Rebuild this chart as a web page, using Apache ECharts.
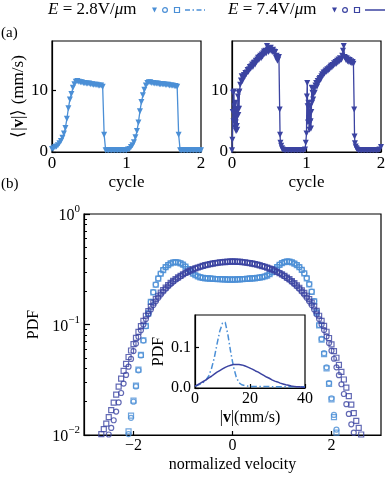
<!DOCTYPE html>
<html><head><meta charset="utf-8">
<script src="https://cdn.jsdelivr.net/npm/echarts@6/dist/echarts.min.js"></script>
<style>html,body{margin:0;padding:0;background:#fff}#c{width:386px;height:480px}</style>
</head><body><div id="c"></div>
<script>
// ---- (a) mean speed vs cycle, E = 2.8 V/um ----
const lowFieldTrace = [
[0.00,0.5],[0.02,0.6],[0.04,0.8],[0.06,0.9],[0.08,1.1],[0.10,1.4],[0.12,1.8],[0.14,2.3],[0.16,3.0],[0.18,3.9],
[0.20,5.4],[0.22,7.1],[0.24,8.5],[0.26,9.4],[0.28,10.4],[0.30,11.0],[0.32,11.4],[0.34,11.5],[0.36,11.4],[0.38,11.3],
[0.40,11.3],[0.42,11.2],[0.44,11.2],[0.46,11.1],[0.48,11.1],[0.50,11.1],[0.52,11.0],[0.54,11.0],[0.56,10.9],[0.58,10.9],
[0.60,10.9],[0.62,10.8],[0.64,10.8],[0.66,10.8],[0.68,10.6],[0.70,2.8],[0.72,0.3],[0.74,0.3],[0.76,0.3],[0.78,0.3],
[0.80,0.3],[0.82,0.3],[0.84,0.3],[0.86,0.3],[0.88,0.3],[0.90,0.3],[0.92,0.3],[0.94,0.3],[0.96,0.3],[0.98,0.3],
[1.00,0.3],[1.02,0.4],[1.04,0.5],[1.06,0.8],[1.08,1.1],[1.10,1.6],[1.12,2.4],[1.14,3.4],[1.16,4.8],[1.18,6.6],
[1.20,8.1],[1.22,9.2],[1.24,10.1],[1.26,10.8],[1.28,11.2],[1.30,11.3],[1.32,11.3],[1.34,11.2],[1.36,11.2],[1.38,11.1],
[1.40,11.1],[1.42,11.1],[1.44,11.0],[1.46,11.0],[1.48,11.0],[1.50,11.0],[1.52,10.9],[1.54,10.9],[1.56,10.9],[1.58,10.8],
[1.60,10.8],[1.62,10.8],[1.64,10.7],[1.66,10.7],[1.68,10.6],[1.70,2.8],[1.72,0.3],[1.74,0.3],[1.76,0.3],[1.78,0.3],
[1.80,0.3],[1.82,0.3],[1.84,0.3],[1.86,0.3],[1.88,0.3],[1.90,0.3],[1.92,0.3],[1.94,0.3],[1.96,0.3],[1.98,0.3],[2.00,0.3]
];
// ---- (a) mean speed vs cycle, E = 7.4 V/um ----
const highFieldTrace = [
[0.000,0.3],[0.005,2.0],[0.010,6.5],[0.015,9.6],[0.020,5.0],[0.025,9.8],[0.030,7.4],[0.035,4.0],[0.040,6.0],[0.045,8.0],
[0.050,4.8],[0.055,3.4],[0.060,6.9],[0.065,4.2],[0.070,3.6],[0.075,7.0],[0.080,9.0],[0.085,6.0],[0.090,9.6],[0.095,7.0],
[0.100,9.8],[0.11,10.9],[0.12,11.6],[0.13,12.3],[0.14,11.5],[0.15,12.0],[0.16,12.5],[0.17,12.2],[0.18,12.8],[0.19,12.6],
[0.20,12.9],[0.21,13.3],[0.22,13.0],[0.23,13.4],[0.24,13.8],[0.25,13.5],[0.26,13.9],[0.27,14.2],[0.28,13.8],[0.29,14.4],
[0.30,14.5],[0.31,14.2],[0.32,14.8],[0.33,14.6],[0.34,15.0],[0.35,15.3],[0.36,14.9],[0.37,15.4],[0.38,15.6],[0.39,15.2],
[0.40,15.8],[0.41,15.5],[0.42,16.0],[0.43,16.3],[0.44,15.9],[0.45,16.4],[0.46,16.0],[0.47,17.2],[0.48,16.6],[0.49,16.2],
[0.50,16.7],[0.51,16.4],[0.52,16.9],[0.53,16.5],[0.54,16.2],[0.55,16.6],[0.56,16.3],[0.57,16.0],[0.58,16.2],[0.59,15.3],
[0.60,15.6],[0.61,14.8],[0.62,15.0],[0.63,15.4],[0.640,6.9],[0.645,2.8],[0.650,1.5],[0.66,1.0],[0.67,0.6],[0.68,0.4],
[0.70,0.3],[0.72,0.3],[0.74,0.3],[0.76,0.3],[0.78,0.3],[0.80,0.3],[0.82,0.3],[0.84,0.3],[0.86,0.3],[0.88,0.3],
[0.90,0.3],[0.92,0.3],[0.94,0.3],[0.96,0.3],[0.98,0.4],[0.99,1.5],[1.000,3.0],[1.005,9.0],[1.010,11.2],[1.015,7.4],
[1.020,4.8],[1.025,8.0],[1.030,7.4],[1.035,5.0],[1.040,3.6],[1.045,4.8],[1.050,7.4],[1.055,5.0],[1.060,3.8],[1.065,6.5],
[1.070,10.4],[1.075,8.0],[1.080,9.6],[1.09,8.5],[1.10,10.2],[1.11,9.6],[1.12,10.8],[1.13,11.2],[1.14,10.6],[1.15,11.5],
[1.16,11.2],[1.17,11.8],[1.18,12.0],[1.19,11.7],[1.20,12.3],[1.21,12.6],[1.22,12.4],[1.23,12.9],[1.24,12.7],[1.25,13.0],
[1.26,13.2],[1.27,13.0],[1.28,13.4],[1.29,13.2],[1.30,13.6],[1.31,13.4],[1.32,13.8],[1.33,14.0],[1.34,13.7],[1.35,14.1],
[1.36,14.0],[1.37,14.4],[1.38,14.2],[1.39,14.6],[1.40,14.3],[1.41,14.8],[1.42,14.5],[1.43,15.0],[1.44,14.7],[1.45,15.2],
[1.46,14.9],[1.47,15.0],[1.48,15.6],[1.49,16.4],[1.50,17.2],[1.51,15.4],[1.52,15.3],[1.53,14.9],[1.54,15.2],[1.55,14.7],
[1.56,15.0],[1.57,14.6],[1.58,14.9],[1.59,14.5],[1.60,14.7],[1.61,14.4],[1.62,14.6],[1.63,14.3],[1.640,6.9],[1.645,2.5],
[1.65,1.4],[1.66,0.9],[1.67,0.6],[1.68,0.4],[1.70,0.3],[1.72,0.3],[1.74,0.3],[1.76,0.3],[1.78,0.3],[1.80,0.3],
[1.82,0.3],[1.84,0.3],[1.86,0.3],[1.88,0.3],[1.90,0.3],[1.92,0.3],[1.94,0.3],[1.96,0.3],[1.98,0.4],[2.00,0.8]
];

// ---- (b) PDF of normalized velocity ----
const velocityBins = [-2.70,-2.65,-2.60,-2.55,-2.50,-2.45,-2.40,-2.35,-2.30,-2.25,-2.20,-2.15,-2.10,-2.05,-2.00,-1.95,-1.90,-1.85,-1.80,-1.75,
-1.70,-1.65,-1.60,-1.55,-1.50,-1.45,-1.40,-1.35,-1.30,-1.25,-1.20,-1.15,-1.10,-1.05,-1.00,-0.95,-0.90,-0.85,-0.80,-0.75,
-0.70,-0.65,-0.60,-0.55,-0.50,-0.45,-0.40,-0.35,-0.30,-0.25,-0.20,-0.15,-0.10,-0.05,0.00,
0.05,0.10,0.15,0.20,0.25,0.30,0.35,0.40,0.45,0.50,0.55,0.60,0.65,0.70,0.75,0.80,0.85,0.90,0.95,1.00,
1.05,1.10,1.15,1.20,1.25,1.30,1.35,1.40,1.45,1.50,1.55,1.60,1.65,1.70,1.75,1.80,1.85,1.90,1.95,2.00,
2.05,2.10,2.15,2.20,2.25,2.30,2.35,2.40,2.45,2.50,2.55,2.60,2.65,2.70];

// E = 2.8 V/um, circles
const pdfLowCircle = [null,null,null,null,null,null,null,null,null,null,null,null,
0.0102,0.0143,0.0200,0.0275,0.0385,0.0525,0.0715,0.0965,0.126,0.160,0.196,0.230,0.261,0.289,0.312,0.331,0.346,0.358,
0.365,0.367,0.365,0.359,0.349,0.335,0.319,0.303,0.290,0.280,0.273,0.268,0.265,0.263,0.262,0.261,0.260,0.259,0.258,0.258,
0.257,0.257,0.256,0.256,
0.256,
0.256,0.257,0.257,0.258,0.259,0.260,0.261,0.262,0.263,0.265,0.267,0.269,0.273,0.278,0.287,0.299,0.315,0.332,0.348,0.360,
0.368,0.372,0.371,0.366,0.357,0.346,0.331,0.313,0.291,0.263,0.232,0.198,0.163,0.129,0.099,0.074,0.055,0.041,0.0295,0.0215,
0.0152,0.0112,null,null,null,null,null,null,null,null,null,null,null,null];
// E = 2.8 V/um, squares
const pdfLowSquare = [null,null,null,null,null,null,null,null,null,null,null,null,
0.0108,0.0150,0.0205,0.028,0.039,0.053,0.072,0.097,0.126,0.160,0.195,0.229,0.260,0.288,0.311,0.330,0.345,0.357,
0.364,0.366,0.364,0.358,0.348,0.334,0.318,0.302,0.289,0.279,0.272,0.267,0.264,0.262,0.261,0.260,0.259,0.258,0.257,0.257,
0.256,0.256,0.255,0.255,
0.255,
0.255,0.256,0.256,0.257,0.258,0.259,0.260,0.261,0.262,0.264,0.266,0.268,0.272,0.277,0.286,0.298,0.314,0.331,0.347,0.359,
0.367,0.371,0.370,0.365,0.356,0.344,0.330,0.312,0.290,0.262,0.231,0.197,0.162,0.128,0.098,0.073,0.054,0.040,0.029,0.021,
0.0145,0.0105,null,null,null,null,null,null,null,null,null,null,null,null];
// E = 7.4 V/um, circles
const pdfHighCircle = [null,null,null,null,0.0101,0.0116,0.0136,0.0163,0.0197,0.0240,0.0292,0.0350,0.0415,0.0488,0.0575,0.0672,0.0775,0.0885,0.100,0.112,
0.124,0.137,0.150,0.162,0.175,0.187,0.199,0.211,0.222,0.233,0.244,0.254,0.264,0.274,0.283,0.292,0.300,0.308,0.315,0.322,
0.328,0.334,0.339,0.344,0.349,0.353,0.357,0.360,0.363,0.366,0.368,0.370,0.371,0.372,
0.372,
0.372,0.371,0.370,0.368,0.366,0.363,0.360,0.357,0.353,0.349,0.344,0.339,0.334,0.328,0.322,0.315,0.308,0.300,0.292,0.283,
0.274,0.264,0.254,0.244,0.233,0.222,0.211,0.199,0.187,0.175,0.162,0.150,0.137,0.124,0.112,0.100,0.0890,0.0780,0.0680,0.0580,
0.0490,0.0410,0.0348,0.0288,0.0235,0.0190,0.0155,0.0125,0.0105,null,null,null,null,null];
// E = 7.4 V/um, squares
const pdfHighSquare = [null,0.0102,0.0113,0.0127,0.0145,0.0168,0.0196,0.0232,0.0274,0.0324,0.0380,0.0441,0.0508,0.0582,0.0664,0.0757,0.0858,0.0966,0.108,0.120,
0.132,0.145,0.158,0.170,0.182,0.194,0.205,0.216,0.227,0.238,0.248,0.258,0.267,0.276,0.285,0.293,0.301,0.309,0.316,0.322,
0.328,0.333,0.339,0.344,0.348,0.352,0.356,0.359,0.362,0.364,0.366,0.367,0.369,0.370,
0.370,
0.370,0.369,0.368,0.366,0.364,0.362,0.359,0.356,0.352,0.348,0.343,0.338,0.333,0.327,0.321,0.315,0.308,0.300,0.292,0.284,
0.275,0.266,0.257,0.247,0.237,0.226,0.215,0.204,0.193,0.182,0.170,0.158,0.146,0.133,0.120,0.108,0.0970,0.0860,0.0755,0.0660,
0.0575,0.0500,0.0432,0.0372,0.0318,0.0268,0.0225,0.0188,0.0158,0.0134,0.0116,0.0101,null,null];

// ---- inset: PDF of |v| (mm/s) ----
const speedBins = [0,1,2,3,4,5,6,7,8,9,10,11,12,13,14,15,16,17,18,19,20,21,22,23,24,25,26,27,28,29,30,31,32,33,34,35,36,37,38,39,40];
const speedPdfLow = [0.005,0.007,0.010,0.014,0.020,0.030,0.048,0.074,0.108,0.140,0.160,0.162,0.130,0.088,0.052,0.027,0.013,0.008,0.006,0.005,
0.004,0.004,0.004,0.004,0.004,0.004,0.004,0.004,0.003,0.003,0.003,0.003,0.003,0.003,0.003,0.003,0.003,0.003,0.003,0.003,0.003];
const speedPdfHigh = [0.004,0.008,0.012,0.016,0.020,0.025,0.029,0.034,0.039,0.043,0.047,0.051,0.054,0.056,0.058,0.058,0.058,0.057,0.055,0.052,
0.049,0.046,0.042,0.039,0.035,0.031,0.027,0.024,0.020,0.017,0.015,0.012,0.010,0.008,0.007,0.005,0.004,0.003,0.003,0.002,0.002];

// tick values
const cycleTicks = [0,1,2];
const speedTicks = [0,10];
const velTicks = [-2,0,2];
const pdfMajor = [0.01,0.1,1];
const pdfMinor = [0.02,0.03,0.04,0.05,0.06,0.07,0.08,0.09,0.2,0.3,0.4,0.5,0.6,0.7,0.8,0.9];
const insetXTicks = [0,20,40];
const insetYTicks = [0,0.1];

const F = 'Liberation Serif';
const LIGHT = '#4b8fd6', DARK = '#3b43a1';
const pair = (xs, ys) => xs.map((x, i) => [x, ys[i]]).filter(p => p[1] != null);
const minus = v => v < 0 ? '\u2212' + (-v) : String(v);

function xAx(grid, min, max, ticks, name, gap, fs, extra) {
  return Object.assign({
    type: 'value', gridIndex: grid, min, max, position: 'bottom',
    axisLine: {show: true, onZero: false, lineStyle: {color: '#000', width: 1.2}},
    axisTick: {show: true, inside: true, length: 4, customValues: ticks, lineStyle: {color: '#000', width: 1.2}},
    axisLabel: {show: true, customValues: ticks, color: '#000', fontFamily: F, fontSize: fs, margin: 3, formatter: minus},
    splitLine: {show: false},
    name, nameLocation: 'middle', nameGap: gap,
    nameTextStyle: {color: '#000', fontFamily: F, fontSize: fs, rich: {b: {fontWeight: 'bold', fontFamily: F, fontSize: fs, color: '#000'}}}
  }, extra || {});
}
function yAx(grid, min, max, ticks, name, gap, fs, extra) {
  return Object.assign({
    type: 'value', gridIndex: grid, min, max, position: 'left',
    axisLine: {show: true, onZero: false, lineStyle: {color: '#000', width: 1.2}},
    axisTick: {show: true, inside: true, length: 4, customValues: ticks, lineStyle: {color: '#000', width: 1.2}},
    axisLabel: {show: true, customValues: ticks, color: '#000', fontFamily: F, fontSize: fs, margin: 4},
    splitLine: {show: false},
    name, nameLocation: 'middle', nameGap: gap, nameRotate: 90,
    nameTextStyle: {color: '#000', fontFamily: F, fontSize: fs, rich: {b: {fontWeight: 'bold', fontFamily: F, fontSize: fs, color: '#000'}}}
  }, extra || {});
}

const gridBase = {show: true, borderColor: '#000', borderWidth: 1.2, backgroundColor: '#fff', containLabel: false, outerBoundsMode: 'none'};

const option = {
  animation: false,
  backgroundColor: '#fff',
  grid: [
    Object.assign({left: 52, top: 41, width: 149, height: 111}, gridBase),
    Object.assign({left: 232, top: 41, width: 149, height: 111}, gridBase),
    Object.assign({left: 84, top: 214, width: 297, height: 221}, gridBase),
    Object.assign({left: 195, top: 315, width: 110, height: 73, z: 5}, gridBase)
  ],
  xAxis: [
    xAx(0, 0, 2, cycleTicks, 'cycle', 22, 17),
    xAx(1, 0, 2, cycleTicks, 'cycle', 22, 17),
    xAx(2, -3, 3, velTicks, 'normalized velocity', 22, 16),
    xAx(3, 0, 40, insetXTicks, '|{b|v}|(mm/s)', 22, 16, {z: 6})
  ],
  yAxis: [
    yAx(0, 0, 18, speedTicks, '\u27E8|{b|v}|\u27E9 (mm/s)', 24, 17),
    yAx(1, 0, 18, speedTicks, '', 24, 17),
    yAx(2, 0.01, 1, pdfMajor, 'PDF', 36, 16, {
      type: 'log', logBase: 10,
      axisTick: {show: true, inside: true, length: 6, customValues: pdfMajor, lineStyle: {color: '#000', width: 1.2}},
      axisLabel: {show: true, customValues: pdfMajor, margin: 4, color: '#000', fontFamily: F,
        formatter: v => { const e = Math.round(Math.log10(v)); return '{b|10}{s|' + minus(e) + '}'; },
        rich: {b: {fontFamily: F, fontSize: 16, color: '#000', lineHeight: 20, verticalAlign: 'bottom'},
               s: {fontFamily: F, fontSize: 11, color: '#000', lineHeight: 20, verticalAlign: 'top'}}}
    }),
    yAx(2, 0.01, 1, pdfMinor, '', 0, 16, {
      type: 'log', logBase: 10,
      axisLine: {show: false, onZero: false},
      axisTick: {show: true, inside: true, length: 3, customValues: pdfMinor, lineStyle: {color: '#000', width: 1}},
      axisLabel: {show: false}
    }),
    yAx(3, 0, 0.18, insetYTicks, 'PDF', 22, 16, {z: 6,
      axisLabel: {show: true, customValues: insetYTicks, color: '#000', fontFamily: F, fontSize: 16, margin: 4, formatter: v => v.toFixed(1)}})
  ],
  series: [
    {type: 'line', xAxisIndex: 0, yAxisIndex: 0, data: lowFieldTrace, symbol: 'triangle', symbolRotate: 180, symbolSize: 6,
     showAllSymbol: true, itemStyle: {color: LIGHT}, lineStyle: {color: LIGHT, width: 1.3}},
    {type: 'line', xAxisIndex: 1, yAxisIndex: 1, data: highFieldTrace, symbol: 'triangle', symbolRotate: 180, symbolSize: 6,
     showAllSymbol: true, itemStyle: {color: DARK}, lineStyle: {color: DARK, width: 1.3}},
    {type: 'scatter', xAxisIndex: 2, yAxisIndex: 2, data: pair(velocityBins, pdfLowSquare), symbol: 'rect', symbolSize: 5,
     itemStyle: {color: 'rgba(0,0,0,0)', borderColor: LIGHT, borderWidth: 1.2}},
    {type: 'scatter', xAxisIndex: 2, yAxisIndex: 2, data: pair(velocityBins, pdfLowCircle), symbol: 'circle', symbolSize: 5,
     itemStyle: {color: 'rgba(0,0,0,0)', borderColor: LIGHT, borderWidth: 1.2}},
    {type: 'scatter', xAxisIndex: 2, yAxisIndex: 2, data: pair(velocityBins, pdfHighSquare), symbol: 'rect', symbolSize: 5,
     itemStyle: {color: 'rgba(0,0,0,0)', borderColor: DARK, borderWidth: 1.2}},
    {type: 'scatter', xAxisIndex: 2, yAxisIndex: 2, data: pair(velocityBins, pdfHighCircle), symbol: 'circle', symbolSize: 5,
     itemStyle: {color: 'rgba(0,0,0,0)', borderColor: DARK, borderWidth: 1.2}},
    {type: 'line', xAxisIndex: 3, yAxisIndex: 4, data: pair(speedBins, speedPdfLow), symbol: 'none', z: 7,
     lineStyle: {color: LIGHT, width: 1.5, type: [6, 2.5, 1.5, 2.5]}},
    {type: 'line', xAxisIndex: 3, yAxisIndex: 4, data: pair(speedBins, speedPdfHigh), symbol: 'none', z: 7,
     lineStyle: {color: DARK, width: 1.5}}
  ],
  graphic: [
    {type: 'text', x: 1, y: 33, style: {text: '(a)', fontFamily: F, fontSize: 15, fill: '#000', verticalAlign: 'middle'}},
    {type: 'text', x: 1, y: 184, style: {text: '(b)', fontFamily: F, fontSize: 15, fill: '#000', verticalAlign: 'middle'}},
    {type: 'text', x: 48, y: 10, style: {text: '{i|E} = 2.8V/{i|\u03BC}m', fontFamily: F, fontSize: 17, fill: '#000', verticalAlign: 'middle',
      rich: {i: {fontFamily: F, fontSize: 17, fontStyle: 'italic', fill: '#000'}}}},
    {type: 'polygon', shape: {points: [[152, 7.5], [157, 7.5], [154.5, 12.5]]}, style: {fill: LIGHT}},
    {type: 'circle', shape: {cx: 165, cy: 10, r: 2.4}, style: {fill: 'none', stroke: LIGHT, lineWidth: 1.2}},
    {type: 'rect', shape: {x: 174.5, y: 7.5, width: 5, height: 5}, style: {fill: 'none', stroke: LIGHT, lineWidth: 1.2}},
    {type: 'line', shape: {x1: 185, y1: 10, x2: 205, y2: 10}, style: {stroke: LIGHT, lineWidth: 1.5, lineDash: [5, 2.5, 1.5, 2.5]}},
    {type: 'text', x: 228, y: 10, style: {text: '{i|E} = 7.4V/{i|\u03BC}m', fontFamily: F, fontSize: 17, fill: '#000', verticalAlign: 'middle',
      rich: {i: {fontFamily: F, fontSize: 17, fontStyle: 'italic', fill: '#000'}}}},
    {type: 'polygon', shape: {points: [[332, 7.5], [337, 7.5], [334.5, 12.5]]}, style: {fill: DARK}},
    {type: 'circle', shape: {cx: 345, cy: 10, r: 2.4}, style: {fill: 'none', stroke: DARK, lineWidth: 1.2}},
    {type: 'rect', shape: {x: 354.5, y: 7.5, width: 5, height: 5}, style: {fill: 'none', stroke: DARK, lineWidth: 1.2}},
    {type: 'line', shape: {x1: 365, y1: 10, x2: 385, y2: 10}, style: {stroke: DARK, lineWidth: 1.5}}
  ]
};
const chart = echarts.init(document.getElementById('c'));
chart.setOption(option);
</script></body></html>
